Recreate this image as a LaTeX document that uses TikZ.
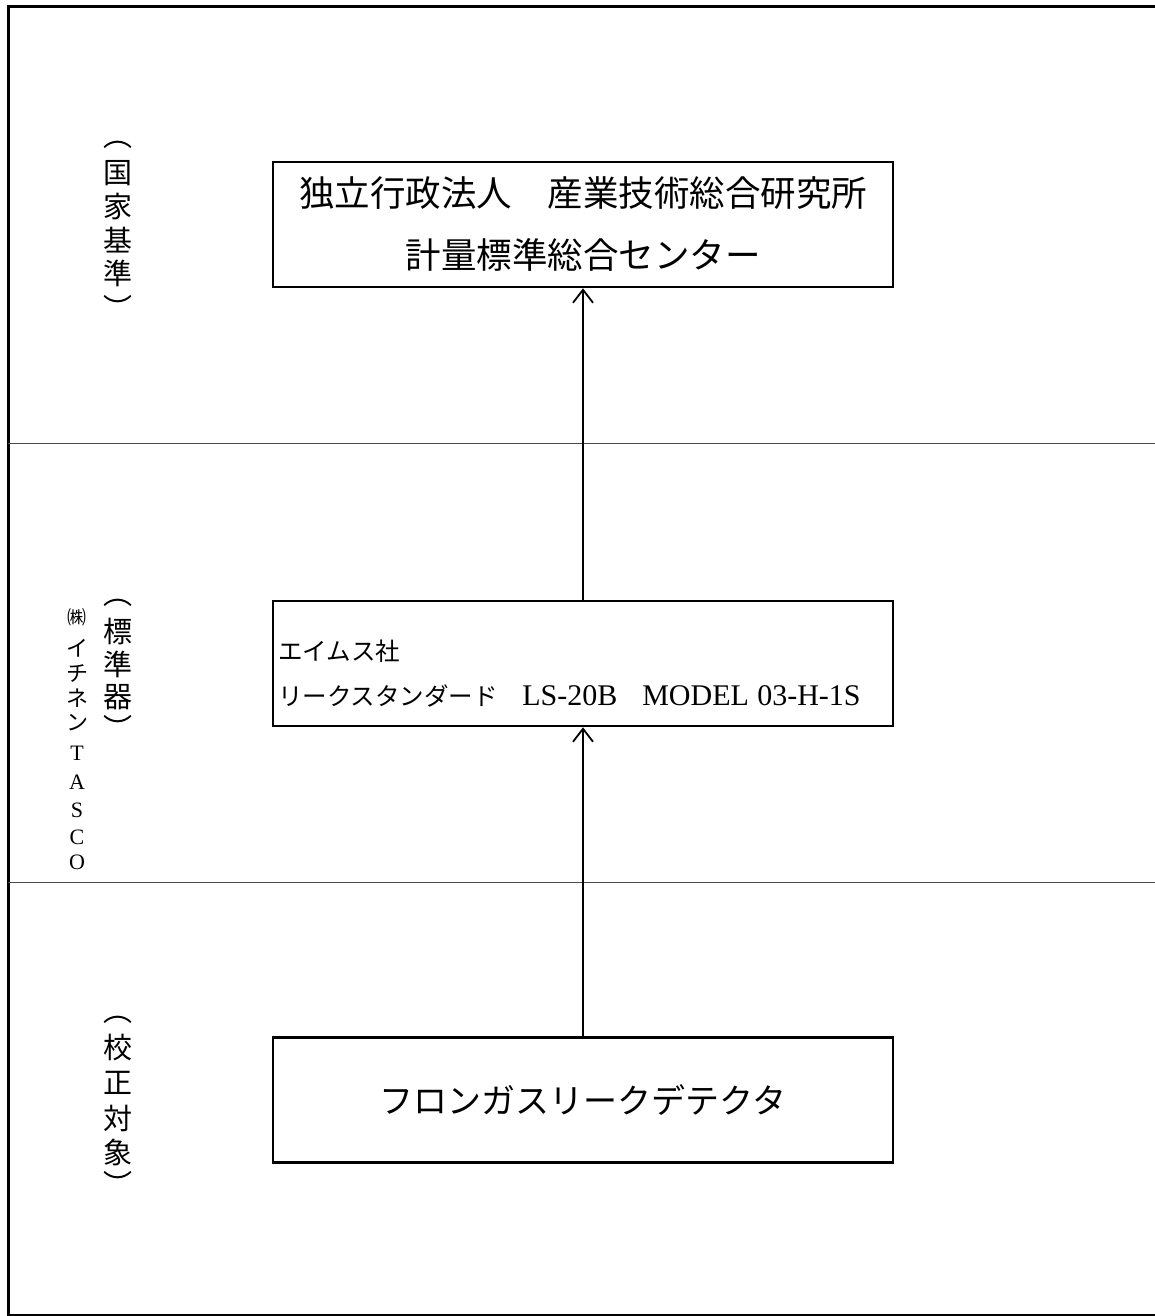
\documentclass[tikz,border=0pt]{standalone}
\usepackage{fontspec}
\setmainfont{Liberation Serif}
\newfontfamily\jp{Noto Sans CJK JP}
\usetikzlibrary{arrows.meta}
\begin{document}
\begin{tikzpicture}[x=1pt,y=-1pt,
  frame/.style={line width=3pt,black},
  sepline/.style={line width=1pt,black!70},
  box/.style={draw,line width=2.6pt,minimum width=620pt,minimum height=125pt,inner sep=5pt},
  arr/.style={line width=1.8pt,-{Straight Barb[length=13pt,width=20pt,line width=1.8pt]}},
  vch/.style={inner sep=0pt,font=\fontsize{29}{29}\selectfont\jp},
  kch/.style={inner sep=0pt,font=\fontsize{22}{22}\selectfont\jp},
  lch/.style={inner sep=0pt,font=\fontsize{22}{22}\selectfont},
  sch/.style={inner sep=0pt,font=\fontsize{19}{19}\selectfont\jp}]
\useasboundingbox (0,0) rectangle (1155,1316);
% outer frame (right side runs off the page)
\draw[frame] (1170,7) -- (8,7) -- (8,1315) -- (1170,1315);
% band separators
\draw[sepline] (8,443) -- (1170,443);
\draw[sepline] (8,882) -- (1170,882);
% boxes
\node[box,align=center,font=\fontsize{35.5}{62}\selectfont\jp] (nat) at (583,224.5)
  {独立行政法人　産業技術総合研究所\\計量標準総合センター};
\node[box,align=left,text width=610pt,font=\fontsize{24.5}{45}\selectfont\jp] (std) at (583,663.5)
  {\rule{0pt}{40pt}エイムス社\\リークスタンダード　\makebox[120pt][l]{\rmfamily\fontsize{30}{30}\selectfont LS-20B}\makebox[115pt][l]{\rmfamily\fontsize{30}{30}\selectfont MODEL}{\rmfamily\fontsize{30}{30}\selectfont 03-H-1S}};
\node[box,font=\fontsize{34}{34}\selectfont\jp] (dut) at (583,1100) {フロンガスリークデテクタ};
% arrows
\draw[arr] (dut.north) -- (dut.north |- std.south);
\draw[arr] (std.north) -- (std.north |- nat.south);
% left vertical labels
\foreach \ch/\yy [count=\i] in {︵/145,国/173,家/206.5,基/240,準/273.5,︶/307}
  \node[vch] (kokka\i) at (118,\yy) {\ch};
\foreach \ch/\yy [count=\i] in {︵/603,標/631,準/664,器/697,︶/727}
  \node[vch] (hyo\i) at (118,\yy) {\ch};
\foreach \ch/\yy [count=\i] in {︵/1020,校/1048,正/1083,対/1118,象/1152,︶/1183}
  \node[vch] (kou\i) at (118,\yy) {\ch};
\node[sch] (kabu) at (77,617) {㈱};
\foreach \ch/\yy [count=\i] in {イ/648,チ/673,ネ/698,ン/723}
  \node[kch] (ichi\i) at (77,\yy) {\ch};
\foreach \ch/\yy [count=\i] in {T/753,A/782,S/810,C/837,O/862}
  \node[lch] (tasco\i) at (77,\yy) {\ch};
\end{tikzpicture}
\end{document}
